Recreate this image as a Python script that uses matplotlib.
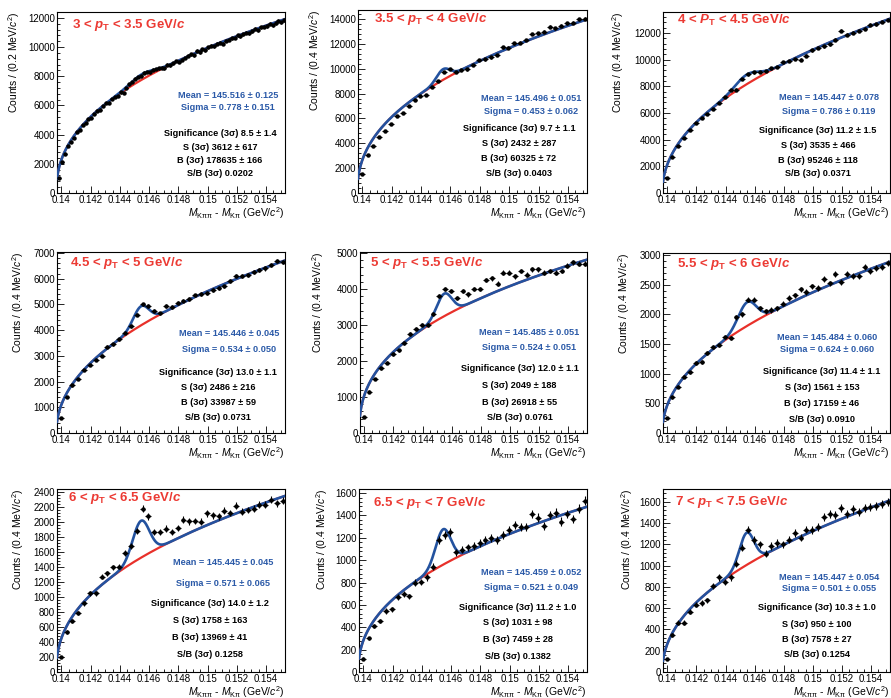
import numpy as np
import matplotlib
matplotlib.use("Agg")
import matplotlib.pyplot as plt
from matplotlib.ticker import MultipleLocator, AutoMinorLocator, FuncFormatter

plt.rcParams.update({
    "font.family": ["Liberation Sans", "DejaVu Sans"],
    "mathtext.fontset": "custom",
    "mathtext.rm": "Liberation Sans",
    "mathtext.it": "Liberation Sans:italic",
    "mathtext.bf": "Liberation Sans:bold",
    "mathtext.bfit": "Liberation Sans:italic:bold",
    "mathtext.sf": "Liberation Sans",
})

# ---------------------------------------------------------------- data
# invariant-mass difference histograms, one per pT interval
titles = [
    r"3 < $\mathbfit{p}_{\mathbf{T}}$ < 3.5 GeV/$\mathbfit{c}$",
    r"3.5 < $\mathbfit{p}_{\mathbf{T}}$ < 4 GeV/$\mathbfit{c}$",
    r"4 < $\mathbfit{P}_{\mathbf{T}}$ < 4.5 GeV/$\mathbfit{c}$",
    r"4.5 < $\mathbfit{p}_{\mathbf{T}}$ < 5 GeV/$\mathbfit{c}$",
    r"5 < $\mathbfit{p}_{\mathbf{T}}$ < 5.5 GeV/$\mathbfit{c}$",
    r"5.5 < $\mathbfit{p}_{\mathbf{T}}$ < 6 GeV/$\mathbfit{c}$",
    r"6 < $\mathbfit{p}_{\mathbf{T}}$ < 6.5 GeV/$\mathbfit{c}$",
    r"6.5 < $\mathbfit{p}_{\mathbf{T}}$ < 7 GeV/$\mathbfit{c}$",
    r"7 < $\mathbfit{p}_{\mathbf{T}}$ < 7.5 GeV/$\mathbfit{c}$",
]
bin_width_mev = [0.2, 0.4, 0.4, 0.4, 0.4, 0.4, 0.4, 0.4, 0.4]

counts_pt_3_35 = [
    1050, 2150, 2700, 3250, 3500, 3800, 4150, 4300, 4650, 4800,
    5080, 5150, 5400, 5650, 5720, 5950, 6150, 6200, 6450, 6600,
    6650, 6900, 6850, 7200, 7450, 7600, 7850, 7950, 8050, 8250,
    8300, 8280, 8450, 8500, 8550, 8600, 8550, 8800, 8750, 8900,
    9050, 9000, 9150, 9250, 9400, 9500, 9450, 9750, 9650, 9850,
    9800, 10000, 10100, 10050, 10250, 10300, 10250, 10450, 10500, 10600,
    10650, 10800, 10750, 10900, 11000, 10950, 11100, 11250, 11150, 11350,
    11400, 11450, 11600, 11500, 11650, 11800, 11700, 11850,
]
counts_pt_35_4 = [
    1560, 3040, 3790, 4510, 4970, 5590, 6180, 6400, 6990, 7470,
    7820, 7870, 8550, 9000, 9750, 9970, 9750, 9890, 9940, 10290,
    10700, 10750, 10910, 11100, 11720, 11690, 12040, 12090, 12310, 12790,
    12850, 12980, 13380, 13250, 13440, 13650, 13700, 13970, 14000,
]
counts_pt_4_45 = [
    1150, 2700, 3500, 4150, 4700, 5250, 5650, 5950, 6300, 6750,
    7200, 7700, 7750, 8550, 8900, 9050, 9080, 9150, 9350, 9450,
    9800, 9900, 10050, 10000, 10300, 10700, 10900, 11000, 11150, 11500,
    12150, 11850, 12000, 12150, 12300, 12600, 12650, 12850, 13000,
]
counts_pt_45_5 = [
    600, 1400, 1850, 2100, 2450, 2650, 2850, 3000, 3350, 3450,
    3650, 3900, 4150, 4600, 5000, 4950, 4750, 4650, 4950, 4900,
    5050, 5150, 5200, 5350, 5400, 5450, 5550, 5650, 5700, 5900,
    6100, 6100, 6150, 6250, 6350, 6400, 6550, 6700, 6650,
]
counts_pt_5_55 = [
    450, 1150, 1500, 1800, 1950, 2200, 2300, 2500, 2750, 2900,
    3000, 3000, 3300, 3800, 4000, 3950, 3750, 3950, 3850, 4000,
    4000, 4250, 4300, 4150, 4450, 4450, 4350, 4500, 4400, 4550,
    4550, 4450, 4500, 4450, 4500, 4650, 4750, 4700, 4700,
]
counts_pt_55_6 = [
    250, 600, 780, 950, 1020, 1180, 1200, 1350, 1450, 1480,
    1620, 1600, 1950, 2000, 2250, 2250, 2100, 2050, 2070, 2100,
    2180, 2280, 2320, 2420, 2380, 2470, 2450, 2600, 2520, 2680,
    2540, 2680, 2650, 2640, 2800, 2730, 2780, 2800, 2870,
]
counts_pt_6_65 = [
    200, 535, 680, 790, 915, 1050, 1050, 1270, 1315, 1395,
    1405, 1585, 1685, 1880, 2175, 2075, 1865, 1865, 1910, 1865,
    1920, 2030, 2010, 2015, 2005, 2115, 2090, 2075, 2150, 2120,
    2215, 2140, 2160, 2180, 2230, 2230, 2300, 2250, 2285,
]
counts_pt_65_7 = [
    120, 300, 410, 455, 545, 560, 670, 700, 675, 800,
    805, 845, 940, 1180, 1225, 1255, 1070, 1095, 1115, 1125,
    1155, 1180, 1200, 1180, 1225, 1270, 1315, 1300, 1300, 1410,
    1380, 1305, 1405, 1425, 1345, 1415, 1370, 1460, 1530,
]
counts_pt_7_75 = [
    125, 345, 465, 465, 565, 635, 650, 675, 805, 890,
    845, 890, 1020, 1170, 1340, 1240, 1200, 1115, 1185, 1215,
    1200, 1245, 1310, 1265, 1340, 1335, 1365, 1455, 1485, 1475,
    1545, 1485, 1530, 1505, 1545, 1555, 1560, 1580, 1600,
]
all_counts = [counts_pt_3_35, counts_pt_35_4, counts_pt_4_45, counts_pt_45_5,
              counts_pt_5_55, counts_pt_55_6, counts_pt_6_65, counts_pt_65_7,
              counts_pt_7_75]

# fit results (Gaussian peak on a threshold power-law background)
mean_mev = [145.516, 145.496, 145.447, 145.446, 145.485, 145.484, 145.445, 145.459, 145.447]
mean_err = [0.125, 0.051, 0.078, 0.045, 0.051, 0.060, 0.045, 0.052, 0.054]
sigma_mev = [0.778, 0.453, 0.786, 0.534, 0.524, 0.624, 0.571, 0.521, 0.501]
sigma_err = [0.151, 0.062, 0.119, 0.050, 0.051, 0.060, 0.065, 0.049, 0.055]
signif = [8.5, 9.7, 11.2, 13.0, 12.0, 11.4, 14.0, 11.2, 10.3]
signif_err = [1.4, 1.1, 1.5, 1.1, 1.1, 1.1, 1.2, 1.0, 1.0]
sig_3s = [3612, 2432, 3535, 2486, 2049, 1561, 1758, 1031, 950]
sig_3s_err = [617, 287, 466, 216, 188, 153, 163, 98, 100]
bkg_3s = [178635, 60325, 95246, 33987, 26918, 17159, 13969, 7459, 7578]
bkg_3s_err = [166, 72, 118, 59, 55, 46, 41, 28, 27]
s_over_b = ["0.0202", "0.0403", "0.0371", "0.0731", "0.0761", "0.0910", "0.1258", "0.1382", "0.1254"]
bkg_norm = [11820, 13850, 12950, 6650, 4780, 2860, 2328, 1465, 1600]   # value at 0.155 GeV/c^2
bkg_power = [0.435, 0.435, 0.475, 0.475, 0.40, 0.475, 0.435, 0.435, 0.475]

y_max = [12410, 14720, 13570, 7040, 5030, 3034, 2440, 1636, 1722]
y_step = [2000, 2000, 2000, 1000, 1000, 500, 200, 200, 200]

mass_lo = 0.13975      # lower edge of first bin
m_thr = 0.13965        # threshold of background shape
m_ref = 0.155
x_range = (0.1397, 0.1553)

# ---------------------------------------------------------------- layout
W, H = 891, 698
axes_px = [  # left, right, top, bottom in pixels
    (57, 285, 12, 193), (358, 587, 10, 193), (663, 890, 12, 193),
    (57, 285, 252, 433), (360, 587, 252, 433), (663, 890, 253, 433),
    (57, 285, 489, 672), (359, 587, 489, 672), (663, 890, 489, 672),
]
title_pos = [(0.066, 0.928), (0.07, 0.951), (0.062, 0.956), (0.057, 0.94), (0.044, 0.94),
             (0.062, 0.94), (0.048, 0.951), (0.061, 0.923), (0.053, 0.929)]
blue_x = [0.75, 0.755, 0.731, 0.754, 0.744, 0.722, 0.73, 0.754, 0.731]
black_x = [0.715, 0.703, 0.683, 0.708, 0.703, 0.70, 0.671, 0.697, 0.678]
line_y = [
    [0.541, 0.47, 0.331, 0.254, 0.177, 0.105],
    [0.514, 0.443, 0.350, 0.268, 0.186, 0.104],
    [0.53, 0.448, 0.343, 0.26, 0.177, 0.105],
    [0.547, 0.464, 0.337, 0.249, 0.166, 0.083],
    [0.558, 0.475, 0.359, 0.265, 0.171, 0.083],
    [0.53, 0.464, 0.343, 0.254, 0.166, 0.077],
    [0.596, 0.486, 0.372, 0.284, 0.186, 0.098],
    [0.546, 0.464, 0.355, 0.268, 0.175, 0.082],
    [0.519, 0.454, 0.35, 0.262, 0.18, 0.093],
]
ylabel_px = [43, 43, 45, 39, 42, 39, 39, 37, 36]

RED = "#e8302a"
BLUE = "#23529f"
BLUE_TXT = "#2b5aa8"
TITLE_RED = "#ec3a33"

fig = plt.figure(figsize=(W / 100, H / 100), dpi=100)

xs = np.linspace(x_range[0], x_range[1], 800)

for k in range(9):
    l, r, t, b = axes_px[k]
    ax = fig.add_axes([l / W, 1 - b / H, (r - l) / W, (b - t) / H])
    wpx, hpx = r - l, b - t

    counts = np.asarray(all_counts[k], dtype=float)
    bw = bin_width_mev[k] / 1000.0
    centers = mass_lo + bw * (np.arange(len(counts)) + 0.5)

    # fit curves
    bkg = bkg_norm[k] * ((xs - m_thr) / (m_ref - m_thr)) ** bkg_power[k]
    amp = sig_3s[k] * bin_width_mev[k] / (np.sqrt(2 * np.pi) * sigma_mev[k])
    gauss = amp * np.exp(-0.5 * ((xs * 1000 - mean_mev[k]) / sigma_mev[k]) ** 2)
    ax.plot(xs, bkg, color=RED, lw=1.6, zorder=3)
    ax.plot(xs, bkg + gauss, color=BLUE, lw=1.9, zorder=4)

    ax.errorbar(centers, counts, xerr=bw / 2, yerr=np.sqrt(counts), fmt="o", ms=2.2,
                color="black", ecolor="black", elinewidth=0.8, capsize=0, zorder=5)

    ax.set_xlim(*x_range)
    ax.set_ylim(0, y_max[k])
    ax.xaxis.set_major_locator(MultipleLocator(0.002))
    ax.xaxis.set_minor_locator(AutoMinorLocator(4))
    ax.yaxis.set_major_locator(MultipleLocator(y_step[k]))
    ax.yaxis.set_minor_locator(AutoMinorLocator(5))
    ax.xaxis.set_major_formatter(FuncFormatter(lambda v, p: f"{v:g}"))
    ax.yaxis.set_major_formatter(FuncFormatter(lambda v, p: f"{v:g}"))
    ax.tick_params(which="both", direction="in", top=False, right=False, width=0.6,
                   labelsize=7, pad=1.5)
    ax.tick_params(which="major", length=5)
    ax.tick_params(which="minor", length=2.5)
    for sp in ax.spines.values():
        sp.set_linewidth(0.8)

    ax.text(title_pos[k][0], title_pos[k][1], titles[k], transform=ax.transAxes,
            ha="left", va="center", fontsize=9.5, fontweight="bold", color=TITLE_RED)

    ys = line_y[k]
    stat_kw = dict(transform=ax.transAxes, ha="center", va="center", fontsize=6.6,
                   fontweight="bold")
    ax.text(blue_x[k], ys[0], f"Mean = {mean_mev[k]:.3f} \u00b1 {mean_err[k]:.3f}",
            color=BLUE_TXT, **stat_kw)
    ax.text(blue_x[k], ys[1], f"Sigma = {sigma_mev[k]:.3f} \u00b1 {sigma_err[k]:.3f}",
            color=BLUE_TXT, **stat_kw)
    ax.text(black_x[k], ys[2], f"Significance (3\u03c3) {signif[k]:.1f} \u00b1 {signif_err[k]:.1f}",
            color="black", **stat_kw)
    ax.text(black_x[k], ys[3], f"S (3\u03c3) {sig_3s[k]} \u00b1 {sig_3s_err[k]}",
            color="black", **stat_kw)
    ax.text(black_x[k], ys[4], f"B (3\u03c3) {bkg_3s[k]} \u00b1 {bkg_3s_err[k]}",
            color="black", **stat_kw)
    ax.text(black_x[k], ys[5], f"S/B (3\u03c3) {s_over_b[k]}", color="black", **stat_kw)

    ax.text(-ylabel_px[k] / wpx, 1.0,
            f"Counts / ({bin_width_mev[k]:g} MeV/$\\mathit{{c}}^{{2}}$)",
            transform=ax.transAxes, rotation=90, ha="center", va="top", fontsize=7.5)
    ax.text(1.0, -20 / hpx,
            r"$\mathit{M}_{\mathrm{K\pi\pi}}$ - $\mathit{M}_{\mathrm{K\pi}}$ (GeV/$\mathit{c}^{2}$)",
            transform=ax.transAxes, ha="right", va="center", fontsize=7.5)

fig.savefig("out.png", dpi=100)
